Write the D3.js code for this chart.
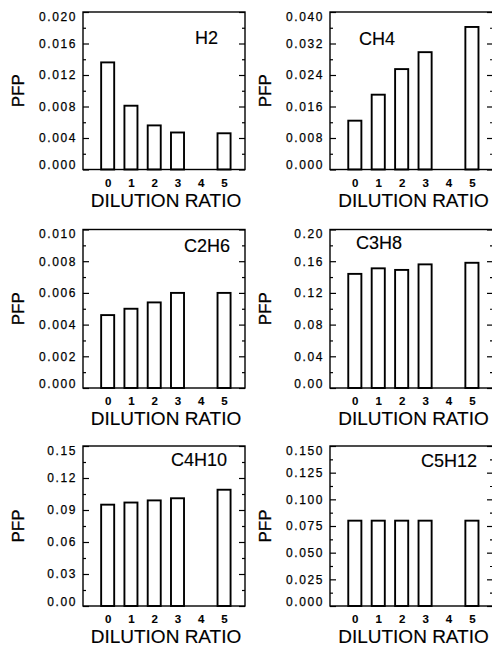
<!DOCTYPE html>
<html><head><meta charset="utf-8">
<script src="https://cdn.jsdelivr.net/npm/d3@7"></script>
<style>body{margin:0;background:#fff} svg{display:block}</style>
</head><body>
<script>
// ---- data ----
const ratios = [0, 1, 2, 3, 4, 5];
const gases = ["H2", "CH4", "C2H6", "C3H8", "C4H10", "C5H12"];
const pfpH2    = [0.0136, 0.0081, 0.0056, 0.0047, null, 0.0046];
const pfpCH4   = [0.0124, 0.0190, 0.0255, 0.0298, null, 0.0362];
const pfpC2H6  = [0.0046, 0.0050, 0.0054, 0.0060, null, 0.0060];
const pfpC3H8  = [0.144, 0.151, 0.149, 0.156, null, 0.158];
const pfpC4H10 = [0.095, 0.097, 0.099, 0.101, null, 0.109];
const pfpC5H12 = [0.080, 0.080, 0.080, 0.080, null, 0.080];
const yMax   = [0.020, 0.040, 0.010, 0.20, 0.15, 0.150];
const yStep  = [0.004, 0.008, 0.002, 0.04, 0.03, 0.025];
const yDec   = [3, 3, 3, 2, 2, 3];
const xTitle = "DILUTION RATIO";
const yTitle = "PFP";
const series = [pfpH2, pfpCH4, pfpC2H6, pfpC3H8, pfpC4H10, pfpC5H12];

// ---- layout ----
const W = 492, H = 651;
const colX = [[83, 245], [330, 493]];
const rowY = [[12, 169.5], [229.5, 388], [446, 606]];
// title placement: [anchor, dx from frame edge, dy from top]
const titlePos = [
  ["end", -27, 32], ["start", 29, 33],
  ["end", -15, 22.5], ["start", 26, 19],
  ["end", -18, 20], ["end", -16, 21]
];
const font = "'Liberation Sans', Arial, Helvetica, sans-serif";

const svg = d3.select("body").append("svg").attr("width", W).attr("height", H)
  .style("font-family", font);

function ink(sel, w) {
  sel.attr("fill", "#000").attr("stroke", "#000").attr("stroke-width", w).attr("paint-order", "stroke");
}

gases.forEach((g, i) => {
  const col = i % 2, row = Math.floor(i / 2);
  const [x0, x1] = colX[col];
  const [y0, y1] = rowY[row];
  const x = d3.scaleLinear().domain([-1.06, 5.9]).range([x0, x1]);
  const y = d3.scaleLinear().domain([0, yMax[i]]).range([y1, y0]);
  const gp = svg.append("g");

  // bars
  const data = ratios.map((r, k) => ({r, v: series[i][k]})).filter(d => d.v != null);
  const bw = x(0.28) - x(-0.28);
  gp.selectAll("rect.bar").data(data).join("rect")
    .attr("class", "bar")
    .attr("x", d => x(d.r) - bw / 2)
    .attr("width", bw)
    .attr("y", d => y(d.v))
    .attr("height", d => y(0) - y(d.v))
    .attr("fill", "#fff").attr("stroke", "#000").attr("stroke-width", 1.9);

  // frame
  gp.append("rect").attr("x", x0).attr("y", y0).attr("width", x1 - x0).attr("height", y1 - y0)
    .attr("fill", "none").attr("stroke", "#000").attr("stroke-width", 1.4);

  // y ticks (major + minor), inward on both sides
  const nMaj = Math.round(yMax[i] / yStep[i]);
  const majors = d3.range(nMaj + 1).map(k => k * yStep[i]);
  const minors = d3.range(nMaj).map(k => (k + 0.5) * yStep[i]);
  const left = d3.axisLeft(y).tickValues(majors).tickSize(-6).tickFormat(d3.format("." + yDec[i] + "f")).tickPadding(6);
  const ag = gp.append("g").attr("transform", `translate(${x0},0)`).call(left);
  ag.select(".domain").remove();
  ag.selectAll(".tick line").attr("stroke", "#000").attr("stroke-width", 1.2);
  ag.selectAll(".tick text").call(ink, 0.25).style("font-family", font)
    .style("font-size", "12px").style("letter-spacing", "1.6px")
    .attr("dy", (d, k) => k === 0 ? "-0.05em" : (k === nMaj ? "0.68em" : "0.32em"));
  const lm = d3.axisLeft(y).tickValues(minors).tickSize(-3).tickFormat("");
  const mg = gp.append("g").attr("transform", `translate(${x0},0)`).call(lm);
  mg.select(".domain").remove();
  mg.selectAll("line").attr("stroke", "#000").attr("stroke-width", 1.2);
  [majors, minors].forEach((vals, m) => {
    const r = d3.axisRight(y).tickValues(vals).tickSize(m === 0 ? -6 : -3).tickFormat("");
    const rg = gp.append("g").attr("transform", `translate(${x1},0)`).call(r);
    rg.select(".domain").remove();
    rg.selectAll("line").attr("stroke", "#000").attr("stroke-width", 1.2);
  });

  // x axis labels
  const bx = d3.axisBottom(x).tickValues(ratios).tickSize(0).tickPadding(9).tickFormat(d3.format("d"));
  const bg = gp.append("g").attr("transform", `translate(0,${y1})`).call(bx);
  bg.select(".domain").remove();
  bg.selectAll(".tick text").call(ink, 0.1).style("font-family", font)
    .style("font-size", "11.5px").style("font-weight", "bold");

  // axis titles
  gp.append("text").attr("x", (x0 + x1) / 2 + 2).attr("y", y1 + 37)
    .attr("text-anchor", "middle").style("font-size", "19px").call(ink, 0.15).text(xTitle);
  gp.append("text").attr("transform", `translate(${x0 - 59},${(y0 + y1) / 2}) rotate(-90)`)
    .attr("text-anchor", "middle").style("font-size", "17px").call(ink, 0.3).text(yTitle);

  // panel title
  const [anc, dx, dy] = titlePos[i];
  gp.append("text").attr("x", anc === "end" ? x1 + dx : x0 + dx).attr("y", y0 + dy)
    .attr("text-anchor", anc).style("font-size", "18px").call(ink, 0.15).text(g);
});
</script>
</body></html>
